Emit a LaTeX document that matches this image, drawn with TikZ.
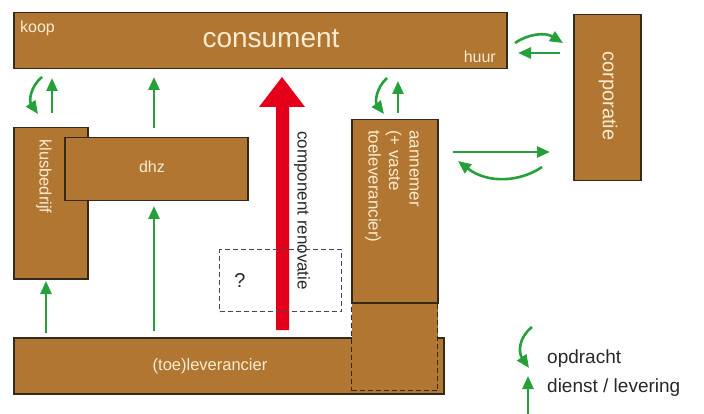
\documentclass[tikz,border=0pt]{standalone}
\usepackage{fontspec}
\setmainfont{Liberation Sans}
\usetikzlibrary{arrows.meta}
\definecolor{brownc}{RGB}{176,118,50}
\definecolor{edgec}{RGB}{52,42,28}
\definecolor{cream}{RGB}{250,236,208}
\definecolor{greenc}{RGB}{38,160,58}
\definecolor{redc}{RGB}{228,0,27}
\definecolor{darkt}{RGB}{40,40,40}
\tikzset{
  box/.style={draw=edgec, line width=1.5pt, fill=brownc, inner sep=0pt, anchor=north west},
  lbl/.style={text=cream, inner sep=0pt},
  garrow/.style={draw=greenc, line width=2.6pt, -{Triangle[length=13pt,width=11pt]}},
  fs/.style={font=\fontsize{#1}{#1}\selectfont},
  dsh/.style={dash pattern=on 5pt off 3pt}
}
\begin{document}
\begin{tikzpicture}[x=1pt,y=-1pt]
\useasboundingbox (0,0) rectangle (704,414);
% boxes
\node[box, minimum width=493pt, minimum height=56pt] (cons) at (13,12) {};
\node[box, minimum width=67pt, minimum height=166pt] (corp) at (573,14) {};
\node[box, minimum width=74pt, minimum height=151pt] (klus) at (13,127) {};
\node[box, minimum width=183pt, minimum height=63pt] (dhz) at (64,137) {};
\node[box, minimum width=430pt, minimum height=56pt] (lev) at (13,337) {};
\node[box, dsh, line width=1.4pt, minimum width=86pt, minimum height=88pt] (aanlow) at (351,302) {};
\node[box, minimum width=86pt, minimum height=183pt] (aan) at (351,119) {};
% red arrow
\fill[redc] (276,330) -- (276,107) -- (259,107) -- (282,77) -- (305,107) -- (289,107) -- (289,330) -- cycle;
% question box
\node[draw=darkt!85, dsh, line width=1.4pt, minimum width=122pt, minimum height=62pt, inner sep=0pt, anchor=north west] (qbox) at (219,249) {};
\node[text=darkt, fs=20] (q) at (240,281) {?};
% labels
\node[lbl, fs=28, anchor=base] (tcons) at (271,48) {consument};
\node[lbl, fs=16, anchor=base west] (tkoop) at (20,33) {koop};
\node[lbl, fs=16, anchor=base east] (thuur) at (496,63) {huur};
\node[lbl, fs=16, anchor=base] (tdhz) at (152,173) {dhz};
\node[lbl, fs=16.5, anchor=base] (tlev) at (210,370) {(toe)leverancier};
\node[lbl, fs=20, rotate=-90] (tcorp) at (608,96) {corporatie};
\node[lbl, fs=16.5, rotate=-90, anchor=west] (tklus) at (44,139) {klusbedrijf};
\node[text=darkt, fs=17, rotate=-90, anchor=west, inner sep=0pt] (tcomp) at (302,131) {component renovatie};
\node[lbl, rotate=-90, anchor=north west, align=left, font=\fontsize{17}{20.5}\selectfont] (taan) at (419,130) {aannemer\\(+ vaste\\toeleverancier)};
% green arrows: consument - klusbedrijf
\coordinate (k1s) at (42,77); \coordinate (k1e) at (38,114);
\draw[garrow] (k1s) .. controls (30,87) and (29,101) .. (k1e);
\coordinate (k2s) at (52,113); \coordinate (k2e) at (52,78);
\draw[garrow] (k2s) -- (k2e);
% dhz - consument
\coordinate (d1s) at (154,128); \coordinate (d1e) at (154,77);
\draw[garrow] (d1s) -- (d1e);
% aannemer - consument
\coordinate (a1s) at (387,78); \coordinate (a1e) at (384,114);
\draw[garrow] (a1s) .. controls (376,88) and (375,102) .. (a1e);
\coordinate (a2s) at (398,113); \coordinate (a2e) at (398,81);
\draw[garrow] (a2s) -- (a2e);
% consument - corporatie
\coordinate (c1s) at (515,43); \coordinate (c1e) at (563,43);
\draw[garrow] (c1s) .. controls (528,34) and (545,32) .. (c1e);
\coordinate (c2s) at (560,53); \coordinate (c2e) at (518,53);
\draw[garrow] (c2s) -- (c2e);
% aannemer - corporatie
\coordinate (r1s) at (453,152); \coordinate (r1e) at (550,152);
\draw[garrow] (r1s) -- (r1e);
\coordinate (r2s) at (542,167); \coordinate (r2e) at (458,161);
\draw[garrow] (r2s) .. controls (520,182) and (488,184) .. (r2e);
% leverancier - klusbedrijf, dhz
\coordinate (l1s) at (46,333); \coordinate (l1e) at (46,281);
\draw[garrow] (l1s) -- (l1e);
\coordinate (l2s) at (154,331); \coordinate (l2e) at (154,206);
\draw[garrow] (l2s) -- (l2e);
% legend
\coordinate (g1s) at (532,327); \coordinate (g1e) at (529,368);
\draw[garrow] (g1s) .. controls (519,337) and (518,352) .. (g1e);
\coordinate (g2s) at (528,416); \coordinate (g2e) at (528,376);
\draw[garrow] (g2s) -- (g2e);
\node[text=darkt, fs=19, anchor=base west, inner sep=0pt] (lg1) at (547,363) {opdracht};
\node[text=darkt, fs=19, anchor=base west, inner sep=0pt] (lg2) at (547,392) {dienst / levering};
\end{tikzpicture}
\end{document}
